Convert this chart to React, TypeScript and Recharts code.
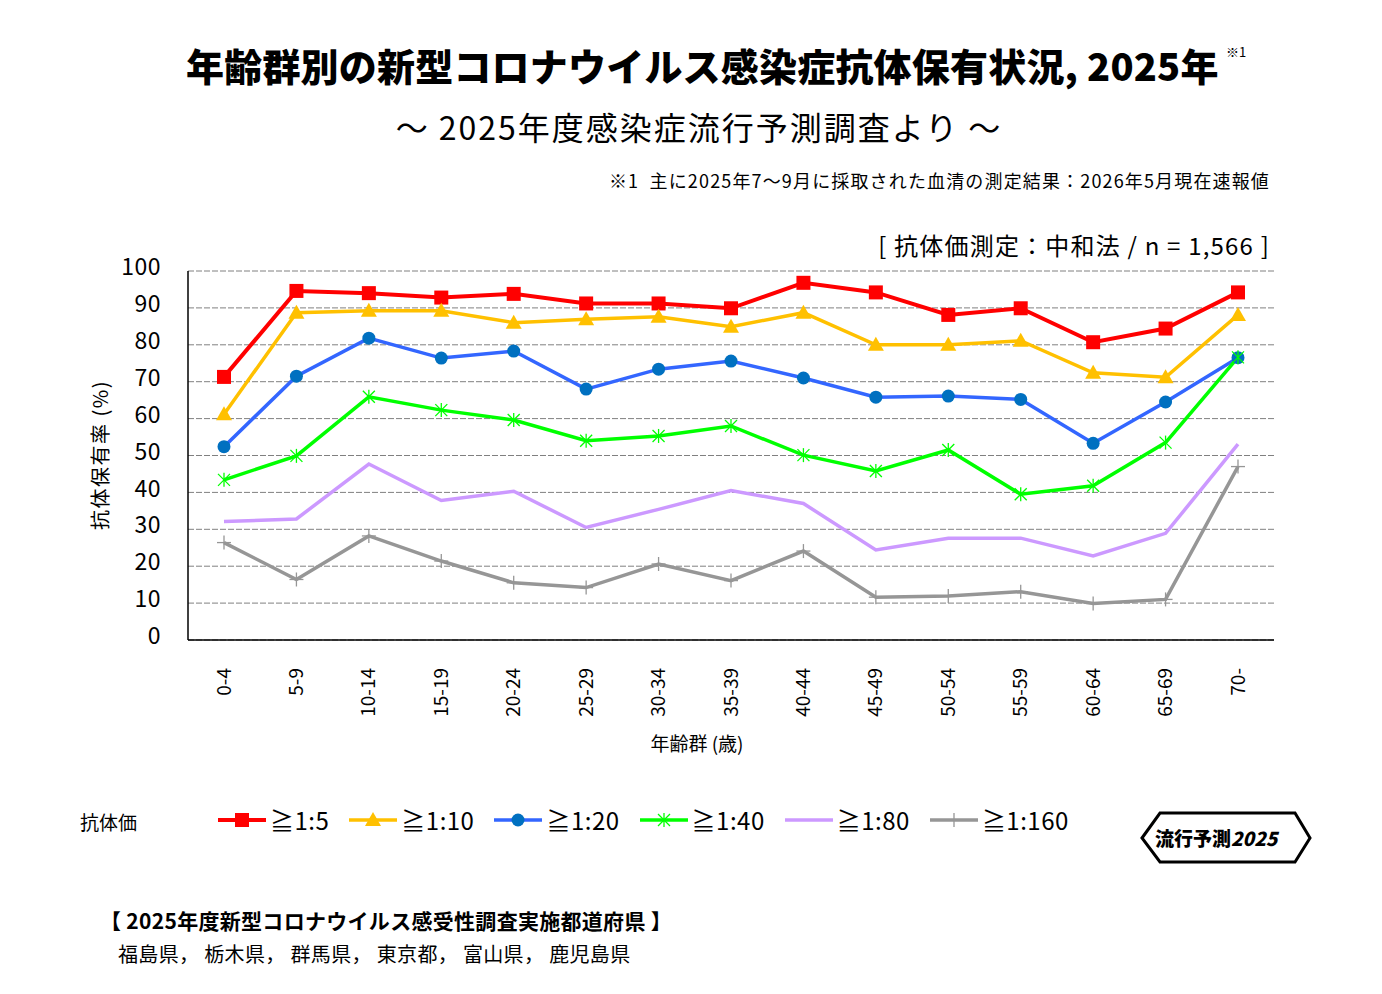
import React from "react";
import { LineChart, Line, XAxis, YAxis, CartesianGrid } from "recharts";

const ageGroups = ["0-4", "5-9", "10-14", "15-19", "20-24", "25-29", "30-34", "35-39", "40-44", "45-49", "50-54", "55-59", "60-64", "65-69", "70-"];
const titer5 = [71.3, 94.6, 94.0, 92.8, 93.8, 91.2, 91.2, 89.9, 96.8, 94.2, 88.1, 89.9, 80.7, 84.4, 94.2];
const titer10 = [61.2, 88.7, 89.2, 89.2, 86.0, 86.9, 87.6, 84.9, 88.7, 80.0, 80.0, 81.1, 72.4, 71.2, 88.1];
const titer20 = [52.4, 71.5, 81.8, 76.4, 78.3, 68.0, 73.4, 75.6, 71.0, 65.8, 66.1, 65.2, 53.3, 64.5, 76.5];
const titer40 = [43.4, 49.9, 65.9, 62.3, 59.6, 54.0, 55.3, 58.0, 50.1, 45.8, 51.5, 39.5, 41.8, 53.5, 76.6];
const titer80 = [32.1, 32.8, 47.7, 37.8, 40.3, 30.5, 35.4, 40.5, 37.0, 24.4, 27.6, 27.6, 22.8, 28.9, 53.1];
const titer160 = [26.4, 16.4, 28.2, 21.4, 15.5, 14.2, 20.6, 16.1, 24.1, 11.6, 11.9, 13.1, 9.9, 11.0, 47.0];
const yTicks = [0, 10, 20, 30, 40, 50, 60, 70, 80, 90, 100];
const prefectures = ["福島県", "栃木県", "群馬県", "東京都", "富山県", "鹿児島県"];

const FONT = '"Noto Sans CJK JP", "Noto Sans", sans-serif';

const data = ageGroups.map((age, i) => ({
  age,
  t5: titer5[i],
  t10: titer10[i],
  t20: titer20[i],
  t40: titer40[i],
  t80: titer80[i],
  t160: titer160[i],
}));

type Shape = "square" | "triangle" | "circle" | "star" | "plus" | "none";

const marker = (shape: Shape, color: string, cx: number, cy: number, key?: any) => {
  switch (shape) {
    case "square":
      return <rect key={key} x={cx - 7} y={cy - 7} width={14} height={14} fill={color} />;
    case "triangle":
      return <polygon key={key} points={`${cx},${cy - 8} ${cx + 8},${cy + 6} ${cx - 8},${cy + 6}`} fill={color} />;
    case "circle":
      return <circle key={key} cx={cx} cy={cy} r={6.5} fill={color} />;
    case "star":
      return (
        <g key={key} stroke={color} strokeWidth={1.3}>
          <line x1={cx - 6} y1={cy - 6} x2={cx + 6} y2={cy + 6} />
          <line x1={cx - 6} y1={cy + 6} x2={cx + 6} y2={cy - 6} />
          <line x1={cx} y1={cy - 7} x2={cx} y2={cy + 7} />
        </g>
      );
    case "plus":
      return (
        <g key={key} stroke={color} strokeWidth={1.3}>
          <line x1={cx - 7} y1={cy} x2={cx + 7} y2={cy} />
          <line x1={cx} y1={cy - 7} x2={cx} y2={cy + 7} />
        </g>
      );
    default:
      return <g key={key} />;
  }
};

const series = [
  { key: "t5", name: "≧1:5", line: "#FF0000", mark: "#FF0000", shape: "square" as Shape, width: 4 },
  { key: "t10", name: "≧1:10", line: "#FFC000", mark: "#FFC000", shape: "triangle" as Shape, width: 3.5 },
  { key: "t20", name: "≧1:20", line: "#3366FF", mark: "#0070C0", shape: "circle" as Shape, width: 3.5 },
  { key: "t40", name: "≧1:40", line: "#00FF00", mark: "#00FF00", shape: "star" as Shape, width: 3.5 },
  { key: "t80", name: "≧1:80", line: "#CC99FF", mark: "#CC99FF", shape: "none" as Shape, width: 3.5 },
  { key: "t160", name: "≧1:160", line: "#969696", mark: "#969696", shape: "plus" as Shape, width: 3.5 },
];

const AgeTick = (props: any) => {
  const { x, y, payload } = props;
  return (
    <text
      x={x}
      y={y}
      transform={`rotate(-90, ${x}, ${y})`}
      textAnchor="end"
      dy="0.35em"
      fontSize={19}
      fontFamily={FONT}
      fill="#000"
    >
      {payload.value}
    </text>
  );
};

const abs = (left: number, top: number, extra: React.CSSProperties = {}): React.CSSProperties => ({
  position: "absolute",
  left,
  top,
  whiteSpace: "nowrap",
  fontFamily: FONT,
  color: "#000",
  lineHeight: 1,
  ...extra,
});

export default function App() {
  return (
    <div style={{ position: "absolute", left: 0, top: 0, width: 1382, height: 994, background: "#fff", overflow: "hidden" }}>
      <div style={abs(186, 46, { fontSize: 38, fontWeight: 900, letterSpacing: 0.2 })}>
        年齢群別の新型コロナウイルス感染症抗体保有状況, 2025年
      </div>
      <div style={abs(1226, 45, { fontSize: 13 })}>※1</div>
      <div style={abs(699, 110, { fontSize: 32, letterSpacing: 2, transform: "translateX(-50%)" })}>～ 2025年度感染症流行予測調査より ～</div>
      <div style={abs(1270, 171, { fontSize: 18, letterSpacing: 1.15, transform: "translateX(-100%)" })}>
        ※1&nbsp;&nbsp;主に2025年7～9月に採取された血清の測定結果：2026年5月現在速報値
      </div>
      <div style={abs(1270, 233, { fontSize: 24, letterSpacing: 1.2, transform: "translateX(-100%)" })}>
        [ 抗体価測定：中和法 / n = 1,566 ]
      </div>

      <div style={abs(100, 455, { fontSize: 20, letterSpacing: 1.5, transform: "translate(-50%, -50%) rotate(-90deg)" })}>抗体保有率 (%)</div>
      <div style={abs(697, 733, { fontSize: 19, transform: "translateX(-50%)" })}>年齢群 (歳)</div>

      <div style={{ position: "absolute", left: 0, top: 0 }}>
        <LineChart width={1382} height={994} data={data} margin={{ top: 271, right: 108, bottom: 254, left: 128 }}>
          <CartesianGrid vertical={false} stroke="#808080" strokeDasharray="6 2" strokeWidth={1} />
          <XAxis
            dataKey="age"
            interval={0}
            height={100}
            padding={{ left: 36, right: 36 }}
            axisLine={{ stroke: "#000", strokeWidth: 1.5 }}
            tickLine={false}
            tickSize={0}
            tickMargin={28}
            tick={<AgeTick />}
          />
          <XAxis xAxisId="top" dataKey="age" orientation="top" height={0} tick={false} tickLine={false} axisLine={{ stroke: "#000", strokeWidth: 1.5 }} />
          <YAxis
            domain={[0, 100]}
            ticks={yTicks}
            interval={0}
            width={60}
            axisLine={{ stroke: "#000", strokeWidth: 1.5 }}
            tickLine={false}
            tickSize={0}
            tickMargin={27}
            tick={{ fontSize: 23, fill: "#000", fontFamily: FONT, dy: -4, letterSpacing: 0.5 }}
          />
          <YAxis yAxisId="right" orientation="right" domain={[0, 100]} width={0} tick={false} tickLine={false} axisLine={{ stroke: "#000", strokeWidth: 1.5 }} />
          {series.map((s) => (
            <Line
              key={s.key}
              type="linear"
              dataKey={s.key}
              name={s.name}
              stroke={s.line}
              strokeWidth={s.width}
              isAnimationActive={false}
              dot={(p: any) => marker(s.shape, s.mark, p.cx, p.cy, `${s.key}-${p.index}`)}
              activeDot={false}
            />
          ))}
        </LineChart>
      </div>

      <div style={abs(80, 812, { fontSize: 19 })}>抗体価</div>
      <div style={{ position: "absolute", left: 218, top: 806, display: "flex", alignItems: "center", fontFamily: FONT }}>
        {series.map((s) => (
          <div key={s.key} style={{ display: "flex", alignItems: "center", marginRight: 20 }}>
            <svg width={48} height={28}>
              <line x1={0} y1={14} x2={48} y2={14} stroke={s.line} strokeWidth={s.width} />
              {marker(s.shape, s.mark, 24, 14)}
            </svg>
            <span style={{ fontSize: 24, letterSpacing: 0.5, marginLeft: 4, lineHeight: 1 }}>{s.name}</span>
          </div>
        ))}
      </div>

      <svg style={{ position: "absolute", left: 1138, top: 810 }} width={176} height={56}>
        <polygon points="4,28 22,3 157,3 172,28 157,52 22,52" fill="#fff" stroke="#000" strokeWidth={3} />
        <text x={17} y={36} fontFamily={FONT} fontSize={19} fontWeight={900} fill="#000">
          流行予測<tspan fontStyle="italic">2025</tspan>
        </text>
      </svg>

      <div style={abs(100, 910, { fontSize: 21, fontWeight: 700, letterSpacing: 0.3 })}>【 2025年度新型コロナウイルス感受性調査実施都道府県 】</div>
      <div style={abs(118, 944, { fontSize: 20, letterSpacing: 0.35 })}>{prefectures.join("， ")}</div>
    </div>
  );
}
